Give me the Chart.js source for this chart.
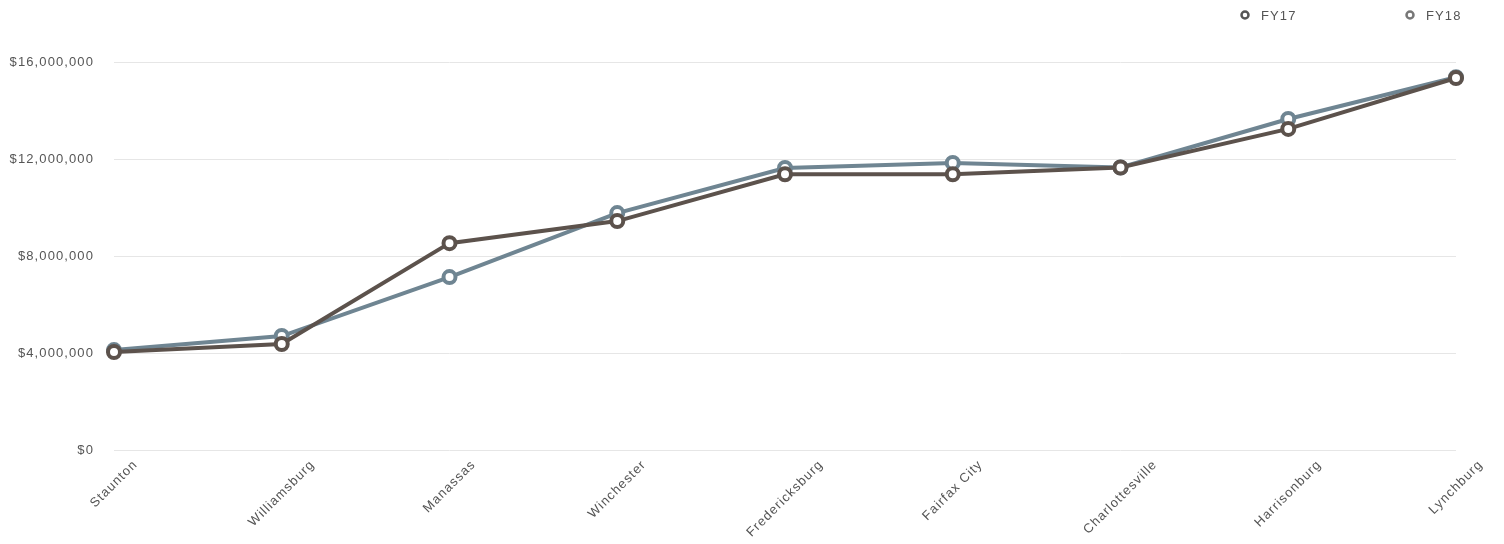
<!DOCTYPE html>
<html>
<head>
<meta charset="utf-8">
<script src="https://cdn.jsdelivr.net/npm/chart.js@4.4.1/dist/chart.umd.min.js"></script>
<style>
html,body{margin:0;padding:0;background:#fff;}
#wrap{width:1504px;height:544px;position:relative;}
</style>
</head>
<body>
<div id="wrap"><canvas id="c" width="1504" height="544"></canvas></div>
<script>
const categories = ["Staunton","Williamsburg","Manassas","Winchester","Fredericksburg","Fairfax City","Charlottesville","Harrisonburg","Lynchburg"];
const fy17 = [4040000,4370000,8530000,9440000,11370000,11370000,11650000,13240000,15340000];
const fy18 = [4120000,4700000,7130000,9770000,11630000,11840000,11650000,13650000,15370000];
const seriesNames = ["FY17","FY18"];
const yTicks = [0,4000000,8000000,12000000,16000000];

const colors = ["#5c524c","#6f8592"];
const FONT = '"Liberation Sans", Arial, sans-serif';
const SPACING = '1.1px';

const spacingPlugin = {
  id: 'spacing',
  beforeLayout(chart) { chart.ctx.letterSpacing = SPACING; },
  beforeDraw(chart) { chart.ctx.letterSpacing = SPACING; }
};

// x category labels, rotated 45deg and centred on each tick of the x scale
const xLabelPlugin = {
  id: 'xLabels',
  afterDraw(chart) {
    const ctx = chart.ctx;
    const xs = chart.scales.x;
    const top = chart.chartArea.bottom + 9;
    ctx.save();
    ctx.letterSpacing = SPACING;
    ctx.font = '13px ' + FONT;
    ctx.fillStyle = '#555';
    ctx.textAlign = 'center';
    ctx.textBaseline = 'middle';
    chart.data.labels.forEach((lab, i) => {
      const x = xs.getPixelForTick(i);
      const w = ctx.measureText(lab).width;
      const h = 10;
      const yc = top + (w + h) * Math.SQRT1_2 / 2;
      ctx.save();
      ctx.translate(x, yc);
      ctx.rotate(-Math.PI / 4);
      ctx.fillText(lab, 0, 0);
      ctx.restore();
    });
    ctx.restore();
  }
};

const legendPlugin = {
  id: 'customLegend',
  afterDraw(chart) {
    const ctx = chart.ctx;
    const xs = [1245, 1410];
    ctx.save();
    ctx.letterSpacing = SPACING;
    chart.data.datasets.forEach((ds, i) => {
      const x = xs[i], y = 15;
      ctx.beginPath();
      ctx.arc(x, y, 3.5, 0, Math.PI * 2);
      ctx.fillStyle = '#fff';
      ctx.fill();
      ctx.lineWidth = 2.5;
      ctx.strokeStyle = i === 0 ? '#555' : '#777';
      ctx.stroke();
      ctx.fillStyle = '#555';
      ctx.font = '13px ' + FONT;
      ctx.textBaseline = 'middle';
      ctx.textAlign = 'left';
      ctx.fillText(ds.label, x + 16, y + 1);
    });
    ctx.restore();
  }
};

new Chart(document.getElementById('c'), {
  type: 'line',
  data: {
    labels: categories,
    datasets: [
      {label: seriesNames[0], data: fy17, borderColor: colors[0], backgroundColor: '#fff',
       borderWidth: 4, pointRadius: 6, pointBorderWidth: 4, pointBackgroundColor: '#fff',
       pointBorderColor: colors[0], tension: 0, order: 0},
      {label: seriesNames[1], data: fy18, borderColor: colors[1], backgroundColor: '#fff',
       borderWidth: 4, pointRadius: 6, pointBorderWidth: 4, pointBackgroundColor: '#fff',
       pointBorderColor: colors[1], tension: 0, order: 1}
    ]
  },
  options: {
    responsive: false,
    animation: false,
    layout: {padding: {top: 62, right: 48, left: 0, bottom: 0}},
    plugins: {legend: {display: false}, tooltip: {enabled: false}},
    font: {family: FONT},
    scales: {
      x: {
        offset: false,
        grid: {display: false},
        border: {display: false},
        ticks: {display: false, autoSkip: false},
        afterFit(s) { s.height = 94; }
      },
      y: {
        min: 0, max: 16000000,
        grid: {color: '#e6e6e6', lineWidth: 1, drawTicks: false},
        border: {display: false},
        afterBuildTicks(s) { s.ticks = yTicks.map(v => ({value: v})); },
        ticks: {
          color: '#555', padding: 20,
          font: {size: 13, family: FONT},
          callback: v => '$' + Number(v).toLocaleString('en-US')
        },
        afterFit(s) { s.width = 114; }
      }
    }
  },
  plugins: [spacingPlugin, xLabelPlugin, legendPlugin]
});
</script>
</body>
</html>
